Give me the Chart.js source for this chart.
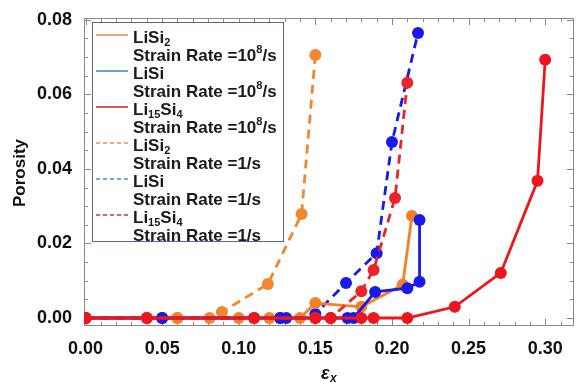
<!DOCTYPE html>
<html>
<head>
<meta charset="utf-8">
<script src="https://cdn.jsdelivr.net/npm/chart.js@4/dist/chart.umd.min.js"></script>
<style>
  body { margin: 0; background: #fff; }
  #c { display: block; }
</style>
</head>
<body>
<canvas id="c" width="580" height="387"></canvas>
<script>
// strain (x) and porosity (y)
const lisi2FastX = [0, 0.06, 0.10, 0.12, 0.14, 0.15, 0.18, 0.207, 0.213];
const lisi2FastY = [0, 0, 0, 0, 0, 0.004, 0.003, 0.0089, 0.0274];
const lisiFastX = [0, 0.05, 0.127, 0.131, 0.171, 0.175, 0.189, 0.21, 0.218, 0.218];
const lisiFastY = [0, 0, 0, 0, 0, 0, 0.007, 0.008, 0.0097, 0.0263];
const li15si4FastX = [0, 0.04, 0.11, 0.15, 0.16, 0.18, 0.188, 0.21, 0.241, 0.271, 0.295, 0.30];
const li15si4FastY = [0, 0, 0, 0, 0, 0, 0, 0, 0.003, 0.0121, 0.0368, 0.0693];
const lisi2SlowX = [0, 0.06, 0.081, 0.089, 0.119, 0.141, 0.15];
const lisi2SlowY = [0, 0, 0, 0.0016, 0.0091, 0.0279, 0.0706];
const lisiSlowX = [0, 0.05, 0.127, 0.15, 0.17, 0.19, 0.20, 0.217];
const lisiSlowY = [0, 0, 0, 0.0011, 0.0094, 0.0174, 0.0472, 0.0765];
const li15si4SlowX = [0, 0.04, 0.11, 0.15, 0.16, 0.18, 0.188, 0.202, 0.21];
const li15si4SlowY = [0, 0, 0, 0, 0, 0.0072, 0.0129, 0.0322, 0.0631];

const xTicks = [0, 0.05, 0.10, 0.15, 0.20, 0.25, 0.30];
const yTicks = [0, 0.02, 0.04, 0.06, 0.08];

// legend text: _{..} subscript, ^{..} superscript
const materials = ['LiSi_{2}', 'LiSi', 'Li_{15}Si_{4}', 'LiSi_{2}', 'LiSi', 'Li_{15}Si_{4}'];
const rates = ['Strain Rate =10^{8}/s', 'Strain Rate =10^{8}/s', 'Strain Rate =10^{8}/s',
               'Strain Rate =1/s', 'Strain Rate =1/s', 'Strain Rate =1/s'];

const ORANGE = 'rgb(245,128,40)';
const BLUE = 'rgb(25,25,235)';
const RED = 'rgb(236,22,28)';
const legendColors = ['rgb(238,150,60)', 'rgb(80,130,205)', 'rgb(222,40,55)',
                      'rgb(238,150,60)', 'rgb(80,130,205)', 'rgb(222,40,55)'];

function pts(xs, ys) {
  return xs.map(function (v, i) { return { x: v, y: ys[i] }; });
}

function series(xs, ys, color, dashed, order) {
  return {
    data: pts(xs, ys),
    showLine: true,
    borderColor: color,
    backgroundColor: color,
    borderWidth: 2.8,
    borderDash: dashed ? [9, 6] : [],
    pointRadius: 6,
    pointBorderWidth: 0,
    pointBackgroundColor: color,
    tension: 0,
    order: order
  };
}

function parseRich(s) {
  var out = [], re = /([_^])\{([^}]*)\}|([^_^]+)/g, m;
  while ((m = re.exec(s)) !== null) {
    if (m[3]) out.push({ t: m[3], k: 0 });
    else out.push({ t: m[2], k: m[1] === '_' ? 1 : -1 });
  }
  return out;
}

function drawRich(ctx, s, x, y, size) {
  parseRich(s).forEach(function (seg) {
    var fs = seg.k === 0 ? size : Math.round(size * 0.62);
    var dy = seg.k === 1 ? size * 0.28 : (seg.k === -1 ? -size * 0.38 : 0);
    ctx.font = 'bold ' + fs + 'px "Liberation Sans", Arial, sans-serif';
    ctx.fillText(seg.t, x, y + dy);
    x += ctx.measureText(seg.t).width;
  });
}

const frame = {
  id: 'frame',
  beforeDatasetsDraw(chart) {
    const ctx = chart.ctx, a = chart.chartArea, sx = chart.scales.x, sy = chart.scales.y;
    ctx.save();
    ctx.strokeStyle = '#8a8a8a';
    ctx.lineWidth = 1;
    ctx.strokeRect(a.left + 0.5, a.top + 0.5, a.right - a.left - 1, a.bottom - a.top - 1);
    ctx.beginPath();
    for (var i = 0; i <= 31; i++) {
      var px = Math.round(sx.getPixelForValue(i / 100)) + 0.5;
      var len = i % 5 === 0 ? 7 : 4;
      ctx.moveTo(px, a.bottom); ctx.lineTo(px, a.bottom - len);
      ctx.moveTo(px, a.top); ctx.lineTo(px, a.top + len);
    }
    for (var j = 0; j <= 16; j++) {
      var py = Math.round(sy.getPixelForValue(j * 0.005)) + 0.5;
      var l2 = j % 4 === 0 ? 7 : 4;
      ctx.moveTo(a.left, py); ctx.lineTo(a.left + l2, py);
      ctx.moveTo(a.right, py); ctx.lineTo(a.right - l2, py);
    }
    ctx.stroke();
    ctx.restore();
  },
  afterDraw(chart) {
    const ctx = chart.ctx;
    ctx.save();
    ctx.fillStyle = '#111';
    // axis titles
    ctx.textBaseline = 'middle';
    ctx.textAlign = 'center';
    ctx.save();
    ctx.translate(20, 173);
    ctx.rotate(-Math.PI / 2);
    ctx.font = 'bold 17px "Liberation Sans", Arial, sans-serif';
    ctx.fillText('Porosity', 0, 0);
    ctx.restore();
    ctx.textAlign = 'left';
    ctx.font = 'italic bold 18px "Liberation Sans", Arial, sans-serif';
    ctx.fillText('\u03b5', 321, 374);
    ctx.font = 'italic bold 12px "Liberation Sans", Arial, sans-serif';
    ctx.fillText('x', 330, 379);

    // legend box
    var bx = 92, by = 22, bw = 191, bh = 219;
    ctx.fillStyle = '#fff';
    ctx.fillRect(bx, by, bw, bh);
    ctx.strokeStyle = 'rgb(80,105,165)';
    ctx.lineWidth = 1;
    ctx.strokeRect(bx + 0.5, by + 0.5, bw, bh);
    ctx.textBaseline = 'middle';
    for (var i = 0; i < materials.length; i++) {
      var ny = 38 + i * 36;
      ctx.strokeStyle = legendColors[i];
      ctx.lineWidth = 1.6;
      ctx.setLineDash(i >= 3 ? [4, 3] : []);
      ctx.beginPath();
      ctx.moveTo(96, ny - 3);
      ctx.lineTo(128, ny - 3);
      ctx.stroke();
      ctx.setLineDash([]);
      ctx.fillStyle = '#1a1a1a';
      drawRich(ctx, materials[i], 133, ny, 17);
      drawRich(ctx, rates[i], 133, ny + 18, 17);
    }
    ctx.restore();
  }
};

const tickFont = { family: '"Liberation Sans", Arial, sans-serif', size: 18, weight: 'bold' };

new Chart(document.getElementById('c'), {
  type: 'scatter',
  data: {
    datasets: [
      series(lisi2FastX, lisi2FastY, ORANGE, false, 3),
      series(lisiFastX, lisiFastY, BLUE, false, 2),
      series(li15si4FastX, li15si4FastY, RED, false, 0),
      series(lisi2SlowX, lisi2SlowY, 'rgb(242,135,50)', true, 5),
      series(lisiSlowX, lisiSlowY, BLUE, true, 4),
      series(li15si4SlowX, li15si4SlowY, 'rgb(236,35,40)', true, 1)
    ]
  },
  options: {
    responsive: false,
    animation: false,
    devicePixelRatio: 1,
    layout: { padding: { top: 18, right: 2, left: 0, bottom: 0 } },
    plugins: { legend: { display: false }, tooltip: { enabled: false } },
    scales: {
      x: {
        type: 'linear',
        min: -0.001,
        max: 0.3188,
        grid: { display: false },
        border: { display: false },
        afterBuildTicks: function (s) { s.ticks = xTicks.map(function (v) { return { value: v }; }); },
        afterFit: function (s) { s.height = 61; },
        ticks: {
          color: '#111', font: tickFont, padding: 4, maxRotation: 0,
          callback: function (v) { return v.toFixed(2); }
        }
      },
      y: {
        type: 'linear',
        min: -0.00215,
        max: 0.0805,
        grid: { display: false },
        border: { display: false },
        afterBuildTicks: function (s) { s.ticks = yTicks.map(function (v) { return { value: v }; }); },
        afterFit: function (s) { s.width = 84; },
        ticks: {
          color: '#111', font: tickFont, padding: 4,
          callback: function (v) { return v.toFixed(2); }
        }
      }
    }
  },
  plugins: [frame]
});
</script>
</body>
</html>
